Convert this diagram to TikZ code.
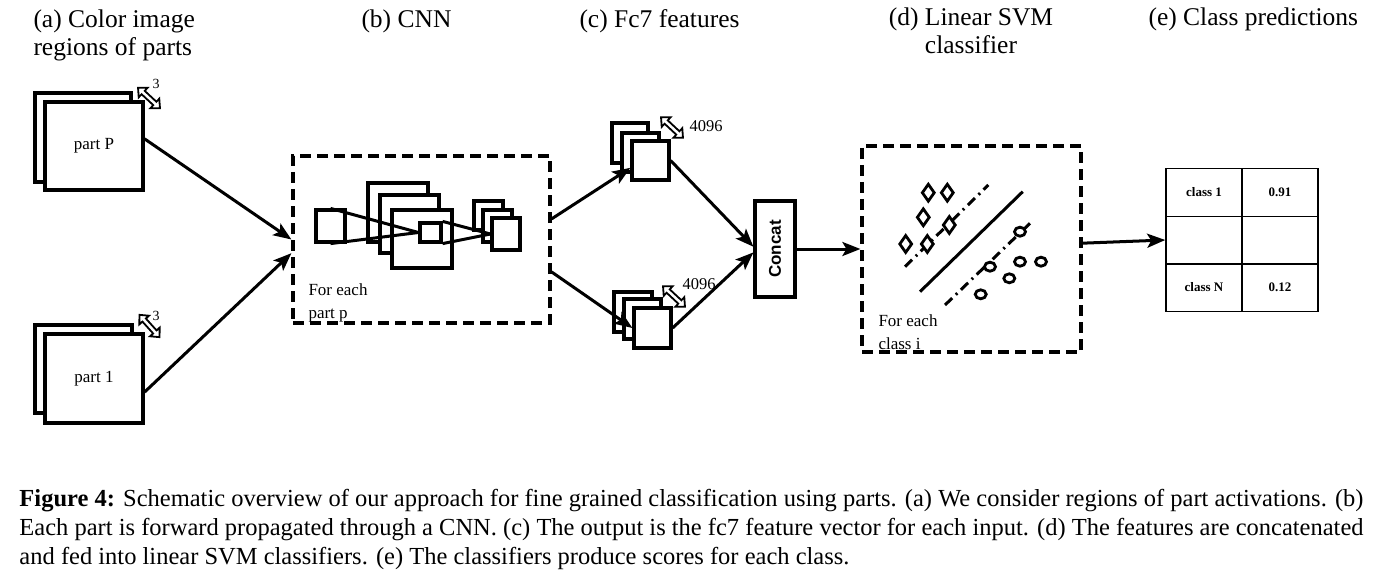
\documentclass[tikz,border=0pt]{standalone}
\usepackage{fontspec}
\setmainfont{Liberation Serif}
\setsansfont{Liberation Sans}
\usetikzlibrary{arrows.meta,shapes.geometric}

\tikzset{every picture/.style={line width=3pt}}
\tikzset{
  dimarrow/.pic={
    \draw [line width=1.8pt, fill=white] (-15,0) -- (-8,6.5) -- (-8,2.3) -- (8,2.3) -- (8,6.5) -- (15,0) -- (8,-6.5) -- (8,-2.3) -- (-8,-2.3) -- (-8,-6.5) -- cycle ;
  }
}

\begin{document}
\begin{tikzpicture}[x=1pt,y=1pt,yscale=-1,xscale=1,
  sq/.style={draw, fill=white, line width=3.2pt, inner sep=0pt},
  dashbox/.style={draw, line width=3.2pt, dash pattern=on 11pt off 6pt, inner sep=0pt},
  conn/.style={line width=3pt, -{Stealth[length=18pt,width=14pt,inset=4pt]}},
  cell/.style={draw, line width=1.5pt, minimum width=76pt, minimum height=47.5pt, inner sep=0pt, font=\fontsize{13}{15}\selectfont\bfseries},
  head/.style={anchor=north west, inner sep=0pt, align=left, font=\fontsize{25.5}{28}\selectfont},
  lbl/.style={inner sep=0pt, font=\fontsize{17}{23}\selectfont},
  dimlbl/.style={inner sep=0pt, font=\fontsize{16.5}{18}\selectfont},
  dia/.style={diamond, draw, line width=2.8pt, minimum width=13pt, minimum height=18pt, inner sep=0pt},
  circ/.style={ellipse, draw, line width=2.8pt, minimum width=11pt, minimum height=9pt, inner sep=0pt},
  margin/.style={line width=3pt, dash pattern=on 10pt off 5pt on 2pt off 5pt}
]
\useasboundingbox (0,0) rectangle (1378,580);

% Text Node
\node [head] (hA) at (32,8.5) {(a) Color image\\regions of parts};
% Text Node
\node [head] (hB) at (360,8.5) {(b) CNN};
% Text Node
\node [head] (hC) at (578,8.5) {(c) Fc7 features};
% Text Node
\node [head, anchor=north, align=center] (hD) at (971,6.5) {(d) Linear SVM\\classifier};
% Text Node
\node [head] (hE) at (1147,6.5) {(e) Class predictions};

%Shape: Dashed boxes
\node [dashbox, minimum width=257pt, minimum height=167pt] (cnn) at (421.5,239.5) {};
\node [dashbox, minimum width=219pt, minimum height=206pt] (svm) at (971.5,249) {};

%Shape: Part squares
\node [sq, minimum width=96pt, minimum height=89pt] (partPback) at (83,137.5) {};
\node [sq, minimum width=98pt, minimum height=88pt, font=\fontsize{17}{20}\selectfont] (partP) at (94,146) {part P};
\node [sq, minimum width=97pt, minimum height=88pt] (part1back) at (83.5,369) {};
\node [sq, minimum width=98pt, minimum height=89pt, font=\fontsize{17}{20}\selectfont] (part1) at (94,378.5) {part 1};
\pic [rotate=-43] at (149,98) {dimarrow};
\pic [rotate=-48] at (149.5,326) {dimarrow};
\node [dimlbl, font=\fontsize{14}{15}\selectfont] (dimP) at (156,84) {3};
\node [dimlbl, font=\fontsize{14}{15}\selectfont] (dim1) at (156,316) {3};

%Shape: CNN layers
\node [sq, minimum width=60pt, minimum height=59pt] (bs1) at (398,212.5) {};
\node [sq, minimum width=59pt, minimum height=58pt] (bs2) at (409.5,224) {};
\node [sq, minimum width=60pt, minimum height=58pt] (bs3) at (422,239) {};
\node [sq, minimum width=29pt, minimum height=29pt] (rs1) at (488.5,215.5) {};
\node [sq, minimum width=29pt, minimum height=32pt] (rs2) at (497.5,226) {};
\node [sq, minimum width=28pt, minimum height=32pt] (rs3) at (506,234) {};
\node [sq, minimum width=29pt, minimum height=32pt] (inp) at (330.5,226) {};
\node [sq, minimum width=21pt, minimum height=19pt] (kern) at (430.5,232.5) {};
\draw (inp.north) -- (kern.west) ;
\draw (inp.south) -- (kern.west) ;
\draw (kern.north east) -- (rs3.west) ;
\draw (kern.south east) -- (rs3.west) ;
% Text Node
\node [lbl, anchor=north west, align=left] (cnntxt) at (307,282) {For each\\part p};

%Shape: Fc7 vectors
\node [sq, minimum width=36pt, minimum height=40pt] (fa1) at (630,143) {};
\node [sq, minimum width=37pt, minimum height=39pt] (fa2) at (640.5,152.5) {};
\node [sq, minimum width=37pt, minimum height=39pt] (fa3) at (650.5,160.5) {};
\node [sq, minimum width=38pt, minimum height=40pt] (fb1) at (633,312) {};
\node [sq, minimum width=37pt, minimum height=40pt] (fb2) at (642.5,319) {};
\node [sq, minimum width=37pt, minimum height=40pt] (fb3) at (652.5,328) {};
\pic [rotate=-43] at (672,127.5) {dimarrow};
\pic [rotate=-43] at (674,296.5) {dimarrow};
\node [dimlbl, anchor=west] (dimA) at (688,126) {4096};
\node [dimlbl, anchor=west] (dimB) at (681,284) {4096};

%Shape: Concat
\node [sq, minimum width=40pt, minimum height=96pt, font=\fontsize{17}{20}\selectfont\sffamily\bfseries] (concat) at (775,249) {\rotatebox{90}{Concat}};

%Shape: SVM margins
\draw (920,291.7) -- (1022.7,191.7) ;
\draw [margin] (905,266.7) -- (988.3,185) ;
\draw [margin] (945,305) -- (1030,223.3) ;
\foreach \n/\x/\y in {1/928.3/192.7, 2/947.3/192.7, 3/923.3/217.3, 4/949.3/225, 5/905.7/244, 6/927.3/244}
  \node [dia, fill=white] (pos\n) at (\x,\y) {};
\foreach \n/\x/\y in {1/1020/231.7, 2/990/266.7, 3/1020/261.7, 4/1041/261.7, 5/1009.3/278.3, 6/980.7/294.3}
  \node [circ, fill=white] (neg\n) at (\x,\y) {};
% Text Node
\node [lbl, anchor=north west, align=left] (svmtxt) at (877,313) {For each\\class i};

%Shape: Score table
\node [cell] (c11) at (1204,192.5) {class 1};
\node [cell] (c12) at (1280,192.5) {0.91};
\node [cell] (c21) at (1204,240) {};
\node [cell] (c22) at (1280,240) {};
\node [cell] (c31) at (1204,287.5) {class N};
\node [cell] (c32) at (1280,287.5) {0.12};

% Connection
\draw [conn] (partP.8) -- (cnn.west) ;
\draw [conn] (part1.-15) -- (cnn.186) ;
\draw [conn] (cnn.9) -- (fa3.200) ;
\draw [conn] (cnn.-14) -- (fb3.west) ;
\draw [conn] (fa3.east) -- (concat.174) ;
\draw [conn] (fb3.east) -- (concat.189) ;
\draw [conn] (concat.east) -- (svm.west) ;
\draw [conn] (svm.3) -- (c21.west) ;

% Text Node
\node [anchor=north west, inner sep=0pt, text width=1344pt, align=justify, font=\fontsize{24.5}{29}\selectfont] (caption) at (18,488) {{\bfseries Figure 4:} Schematic overview of our approach for fine grained classification using parts. (a) We consider regions of part activations. (b) Each part is forward propagated through a CNN. (c) The output is the fc7 feature vector for each input. (d) The features are concatenated and fed into linear SVM classifiers. (e) The classifiers produce scores for each class.};

\end{tikzpicture}
\end{document}
